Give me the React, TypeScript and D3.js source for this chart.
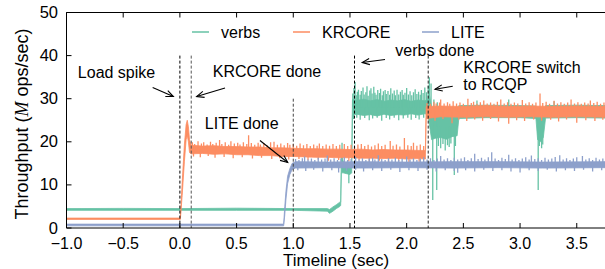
import React from 'react';
import * as d3 from 'd3';

// [time (sec), low, high]: solid core of each series, in M ops/sec
const verbsBand: [number, number, number][] = [
  [-1.0, 4.1, 4.5], [-0.5, 4.1, 4.55], [0.0, 4.1, 4.5], [0.5, 4.1, 4.6], [1.0, 4.1, 4.5],
  [1.30, 3.9, 4.5], [1.32, 3.4, 4.3], [1.35, 3.9, 4.9], [1.38, 4.5, 5.4], [1.41, 5.0, 6.0],
  [1.418, 5.2, 6.0], [1.424, 12.8, 17.0], [1.44, 12.8, 15.5], [1.47, 12.6, 14.6], [1.50, 12.4, 14.4],
  [1.515, 12.8, 15.0], [1.522, 26.2, 29.8], [1.56, 26.4, 29.6], [1.62, 26.1, 29.9], [1.68, 26.3, 29.5],
  [1.74, 26.0, 29.8], [1.80, 26.4, 29.4], [1.86, 26.1, 29.7], [1.92, 26.3, 29.5], [1.98, 26.2, 29.8],
  [2.04, 26.5, 29.4], [2.10, 26.2, 29.7], [2.16, 26.5, 29.5], [2.19, 26.3, 30.0], [2.20, 24.0, 31.0],
  [2.22, 20.5, 28.0], [2.25, 20.8, 26.5], [2.30, 21.0, 26.0], [2.35, 20.6, 26.2], [2.40, 21.2, 26.0],
  [2.445, 21.4, 26.6], [2.46, 25.4, 28.4], [2.7, 25.6, 28.5], [3.0, 25.6, 28.4], [3.14, 25.4, 28.3],
  [3.155, 20.5, 27.0], [3.18, 20.0, 26.8], [3.205, 21.0, 27.0], [3.225, 25.5, 28.4], [3.5, 25.6, 28.5],
  [3.75, 25.5, 28.4],
];
const krcoreBand: [number, number, number][] = [
  [-1.0, 2.0, 2.3], [0.0, 2.0, 2.3], [0.004, 2.0, 2.4], [0.02, 7.5, 10.5], [0.04, 15.5, 19.5],
  [0.055, 20.5, 24.0], [0.065, 21.5, 25.0], [0.075, 20.0, 23.5], [0.085, 17.5, 20.5], [0.10, 17.2, 19.2],
  [0.2, 17.3, 19.0], [0.3, 17.1, 19.1], [0.4, 17.2, 18.9], [0.5, 17.0, 18.9], [0.6, 17.0, 18.8],
  [0.7, 16.8, 18.8], [0.8, 16.8, 18.6], [0.9, 16.6, 18.6], [1.0, 16.6, 18.5], [1.1, 16.5, 18.4],
  [1.2, 16.4, 18.4], [1.3, 16.4, 18.3], [1.4, 16.3, 18.3], [1.5, 16.3, 18.2], [1.6, 16.2, 18.3],
  [1.7, 16.2, 18.1], [1.8, 16.1, 18.2], [1.9, 16.2, 18.1], [2.0, 16.0, 18.1], [2.1, 16.1, 18.0],
  [2.165, 16.0, 18.0], [2.172, 25.4, 28.2], [2.3, 25.8, 28.3], [2.5, 25.7, 28.2], [2.7, 25.8, 28.4],
  [2.9, 25.7, 28.2], [3.1, 25.8, 28.3], [3.3, 25.7, 28.2], [3.5, 25.8, 28.3], [3.75, 25.7, 28.2],
];
const liteBand: [number, number, number][] = [
  [-1.0, 0.5, 0.9], [0.915, 0.5, 0.9], [0.925, 3.0, 5.0], [0.935, 6.5, 8.5], [0.95, 10.3, 12.0],
  [0.97, 12.4, 13.8], [0.99, 13.6, 15.0], [1.02, 13.9, 15.4], [1.3, 14.0, 15.3], [1.6, 13.9, 15.4],
  [2.0, 14.0, 15.3], [2.4, 13.9, 15.4], [2.8, 14.0, 15.4], [3.2, 13.9, 15.3], [3.75, 14.0, 15.4],
];

// [time, value]: single-sample excursions outside the core
const verbsSpikes: [number, number][] = [
  [1.43, 19.8], [1.49, 10.4],
  [1.525, 31.2], [1.535, 32.5], [1.545, 33.9], [1.555, 30.8], [1.565, 31.6], [1.575, 32.1], [1.59, 30.9],
  [1.60, 31.8], [1.615, 32.6], [1.625, 31.0], [1.64, 31.5], [1.65, 32.9], [1.66, 30.7], [1.675, 31.9],
  [1.685, 32.4], [1.695, 31.2], [1.71, 32.8], [1.72, 31.4], [1.73, 30.9], [1.745, 32.0], [1.76, 31.3],
  [1.77, 32.3], [1.785, 30.8], [1.795, 31.7], [1.81, 32.0], [1.82, 31.1], [1.835, 31.8], [1.85, 30.9],
  [1.86, 32.4], [1.875, 31.2], [1.89, 31.9], [1.90, 30.8], [1.915, 32.1], [1.93, 31.0], [1.945, 31.6],
  [1.96, 32.0], [1.97, 30.9], [1.985, 31.4], [2.00, 32.5], [2.015, 31.0], [2.03, 31.7], [2.045, 30.8],
  [2.06, 31.5], [2.075, 32.2], [2.09, 31.1], [2.105, 31.6], [2.12, 30.9], [2.13, 32.0], [2.145, 31.3],
  [2.16, 32.6], [2.175, 31.5], [2.19, 33.0], [2.20, 35.0], [2.215, 33.5],
  [1.53, 25.3], [1.56, 25.6], [1.59, 25.1], [1.63, 25.5], [1.67, 25.0], [1.70, 25.4], [1.74, 25.6],
  [1.78, 24.9], [1.82, 25.5], [1.85, 25.2], [1.89, 25.6], [1.93, 25.0], [1.97, 25.4], [2.01, 25.6],
  [2.04, 25.1], [2.08, 25.5], [2.11, 25.2], [2.15, 25.6], [2.18, 25.3],
  [2.23, 6.5], [2.265, 8.8], [2.28, 19.0], [2.30, 18.5], [2.32, 19.5], [2.34, 18.0], [2.36, 19.2],
  [2.375, 18.8], [2.39, 19.6], [2.42, 12.3], [2.43, 19.0], [2.24, 29.8], [2.27, 29.2],
  [2.62, 29.6], [2.9, 29.8], [3.3, 29.4], [3.16, 8.8], [3.17, 19.0], [3.19, 18.5], [3.20, 19.4],
];
const krcoreSpikes: [number, number][] = [
  [0.11, 19.9], [0.13, 19.5], [0.16, 20.1], [0.19, 19.6], [0.21, 19.9], [0.24, 19.4], [0.27, 20.0],
  [0.29, 19.5], [0.32, 19.8], [0.35, 20.4], [0.37, 19.5], [0.40, 19.9], [0.43, 19.3], [0.45, 20.1],
  [0.48, 19.6], [0.51, 19.8], [0.53, 19.4], [0.56, 19.9], [0.59, 19.5], [0.606, 21.5], [0.63, 19.7],
  [0.66, 19.3], [0.69, 19.8], [0.71, 19.4], [0.74, 19.7], [0.77, 19.2], [0.80, 19.9], [0.83, 20.0],
  [0.86, 19.3], [0.89, 19.6], [0.92, 19.2], [0.95, 19.7], [0.97, 19.3], [1.00, 19.5], [1.03, 19.1],
  [1.06, 19.6], [1.09, 19.2], [1.12, 19.5], [1.15, 19.0], [1.18, 19.4], [1.21, 19.1], [1.23, 19.6],
  [1.26, 19.0], [1.29, 19.4], [1.32, 19.1], [1.35, 19.5], [1.38, 19.0], [1.41, 19.3], [1.45, 19.5],
  [1.48, 19.0], [1.51, 19.3], [1.54, 18.9], [1.57, 19.4], [1.60, 19.5], [1.63, 19.0], [1.66, 19.3],
  [1.69, 18.9], [1.72, 19.2], [1.75, 19.6], [1.78, 19.0], [1.81, 19.3], [1.855, 20.2], [1.88, 19.1],
  [1.91, 19.4], [1.94, 18.9], [1.98, 20.9], [2.01, 19.2], [2.04, 19.0], [2.06, 19.8], [2.09, 19.1],
  [2.12, 19.4], [2.15, 19.0],
  [0.12, 16.6], [0.18, 16.4], [0.25, 16.7], [0.31, 16.3], [0.39, 16.5], [0.47, 16.2], [0.55, 16.4],
  [0.64, 16.1], [0.72, 16.3], [0.81, 16.0], [0.88, 16.2], [0.96, 15.9], [1.05, 16.0], [1.13, 15.7],
  [1.22, 15.9], [1.31, 15.6], [1.40, 15.8], [1.49, 15.5], [1.58, 15.7], [1.67, 15.4], [1.76, 15.6],
  [1.84, 15.3], [1.93, 15.5], [2.02, 15.2], [2.11, 15.4],
  [2.18, 29.0], [2.21, 28.8], [2.24, 29.3], [2.26, 28.9], [2.29, 29.1], [2.30, 29.8], [2.33, 28.9],
  [2.36, 29.2], [2.38, 28.8], [2.41, 29.4], [2.44, 28.9], [2.47, 29.1], [2.50, 28.8], [2.54, 30.0],
  [2.57, 29.0], [2.59, 29.3], [2.62, 28.8], [2.65, 29.2], [2.68, 29.6], [2.71, 28.9], [2.74, 29.1],
  [2.77, 28.8], [2.80, 29.3], [2.83, 29.8], [2.86, 28.9], [2.89, 29.2], [2.92, 28.8], [2.95, 29.1],
  [2.98, 28.9], [3.02, 29.7], [3.05, 28.9], [3.08, 29.2], [3.11, 28.8], [3.14, 29.1], [3.176, 31.2],
  [3.20, 29.0], [3.23, 29.3], [3.26, 28.8], [3.30, 29.5], [3.33, 28.9], [3.36, 29.2], [3.39, 28.8],
  [3.42, 29.1], [3.45, 29.8], [3.48, 28.9], [3.51, 29.2], [3.54, 28.8], [3.57, 29.1], [3.60, 28.9],
  [3.62, 29.6], [3.65, 29.0], [3.68, 29.3], [3.71, 28.8], [3.74, 29.1],
  [2.19, 25.2], [2.25, 24.9], [2.32, 25.3], [2.40, 24.3], [2.46, 25.1], [2.53, 24.8], [2.60, 25.2],
  [2.67, 24.9], [2.74, 25.3], [2.81, 24.7], [2.90, 24.2], [2.97, 25.0], [3.04, 24.8], [3.12, 25.2],
  [3.19, 24.9], [3.27, 25.1], [3.34, 24.7], [3.41, 25.2], [3.50, 24.4], [3.58, 25.0], [3.66, 24.8],
  [3.73, 25.1],
];
const liteSpikes: [number, number][] = [
  [1.02, 16.0], [1.05, 15.8], [1.08, 16.2], [1.10, 16.6], [1.13, 15.9], [1.16, 16.1], [1.19, 15.8],
  [1.22, 16.3], [1.25, 15.9], [1.28, 16.1], [1.30, 16.8], [1.33, 15.9], [1.36, 16.2], [1.39, 15.8],
  [1.42, 16.1], [1.45, 16.4], [1.48, 15.8], [1.51, 16.0], [1.55, 16.5], [1.58, 15.9], [1.61, 16.2],
  [1.64, 15.8], [1.67, 16.1], [1.70, 16.3], [1.72, 15.9], [1.75, 16.9], [1.78, 16.0], [1.81, 15.8],
  [1.84, 16.2], [1.87, 15.9], [1.90, 16.3], [1.93, 15.8], [1.96, 16.1], [2.00, 16.6], [2.03, 15.9],
  [2.06, 16.2], [2.09, 15.8], [2.12, 16.1], [2.15, 16.4], [2.18, 15.9], [2.21, 16.2], [2.24, 15.8],
  [2.27, 16.1], [2.30, 16.7], [2.33, 15.9], [2.36, 16.2], [2.39, 15.8], [2.42, 16.3], [2.45, 15.9],
  [2.48, 16.1], [2.51, 16.4], [2.54, 15.8], [2.57, 16.2], [2.60, 17.2], [2.63, 16.0], [2.66, 16.3],
  [2.69, 15.9], [2.72, 16.4], [2.75, 17.6], [2.78, 16.1], [2.81, 15.8], [2.84, 16.3], [2.87, 16.0],
  [2.90, 17.0], [2.93, 15.9], [2.96, 16.2], [2.99, 15.8], [3.02, 16.1], [3.05, 16.4], [3.08, 15.9],
  [3.10, 16.8], [3.13, 16.0], [3.16, 16.2], [3.19, 15.8], [3.22, 16.3], [3.25, 15.9], [3.28, 16.1],
  [3.31, 16.5], [3.35, 16.9], [3.38, 15.9], [3.41, 16.2], [3.44, 15.8], [3.47, 16.1], [3.50, 16.4],
  [3.55, 16.7], [3.58, 15.9], [3.61, 16.2], [3.64, 15.8], [3.67, 16.3], [3.70, 15.9], [3.73, 16.1],
  [1.04, 13.4], [1.11, 13.2], [1.18, 13.5], [1.26, 13.1], [1.34, 13.4], [1.40, 12.9], [1.47, 13.3],
  [1.55, 13.5], [1.62, 13.1], [1.70, 13.4], [1.78, 13.2], [1.86, 13.5], [1.94, 13.0], [2.02, 13.4],
  [2.10, 13.2], [2.18, 13.5], [2.26, 13.1], [2.34, 13.4], [2.42, 13.2], [2.45, 12.8], [2.52, 13.4],
  [2.60, 13.1], [2.68, 13.5], [2.76, 13.2], [2.84, 13.4], [2.92, 13.1], [3.00, 12.9], [3.08, 13.4],
  [3.16, 13.2], [3.24, 13.5], [3.32, 13.1], [3.40, 13.4], [3.48, 13.2], [3.56, 13.5], [3.64, 13.1],
  [3.72, 13.4],
];

const seriesNames = ['verbs', 'KRCORE', 'LITE'];
const seriesColors = ['#66c2a5', '#fc8d62', '#8da0cb'];

const xTicks = [-1, -0.5, 0, 0.5, 1, 1.5, 2, 2.5, 3, 3.5];
const xTickLabels = ['\u22121.0', '\u22120.5', '0.0', '0.5', '1.0', '1.5', '2.0', '2.5', '3.0', '3.5'];
const yTicks = [0, 10, 20, 30, 40, 50];

// event markers: time and top of the dashed line
const eventTimes = [0, 0.1, 1.0, 1.54, 2.19];
const eventTops = [40, 40, 30, 40, 40];
const eventColors = ['#000', '#555', '#444', '#000', '#222'];

// annotation text (left/baseline in data coords) and arrows
const notes: { lines: string[]; t: number; v: number }[] = [
  { lines: ['Load spike'], t: -0.9, v: 34.9 },
  { lines: ['KRCORE done'], t: 0.29, v: 35.1 },
  { lines: ['LITE done'], t: 0.22, v: 22.9 },
  { lines: ['verbs done'], t: 1.9, v: 40.0 },
  { lines: ['KRCORE switch', 'to RCQP'], t: 2.5, v: 35.9 },
];
const arrows: [number, number, number, number][] = [
  [-0.24, 32.6, -0.058, 30.5],
  [0.398, 32.5, 0.148, 30.5],
  [0.706, 20.3, 0.951, 15.2],
  [1.809, 39.1, 1.608, 38.4],
  [2.406, 32.9, 2.25, 32.2],
];

const W = 605;
const H = 269;
const FONT = '"Liberation Sans", Arial, Helvetica, sans-serif';

export default function App() {
  const x = d3.scaleLinear().domain([-1, 3.75]).range([66.5, 605.1]);
  const y = d3.scaleLinear().domain([0, 50]).range([228, 12.5]);

  const area = d3
    .area<[number, number, number]>()
    .x((d) => x(d[0]))
    .y0((d) => y(d[1]))
    .y1((d) => y(d[2]));

  const bisect = d3.bisector((d: [number, number, number]) => d[0]).left;
  const bandMid = (band: [number, number, number][], t: number) => {
    const i = Math.min(Math.max(bisect(band, t), 1), band.length - 1);
    const a = band[i - 1];
    const b = band[i];
    const k = (t - a[0]) / (b[0] - a[0] || 1);
    return ((a[1] + a[2]) / 2) * (1 - k) + ((b[1] + b[2]) / 2) * k;
  };

  const bands = [verbsBand, krcoreBand, liteBand];
  const spikes = [verbsSpikes, krcoreSpikes, liteSpikes];

  const x0 = x.range()[0];
  const x1 = x.range()[1];
  const yb = y(0);
  const yt = y(50);

  const arrowHead = (xa: number, ya: number, xb: number, yb2: number) => {
    const ang = Math.atan2(yb2 - ya, xb - xa);
    const len = 8;
    const spread = 0.4;
    const p1 = [xb - len * Math.cos(ang - spread), yb2 - len * Math.sin(ang - spread)];
    const p2 = [xb - len * Math.cos(ang + spread), yb2 - len * Math.sin(ang + spread)];
    return `M${p1[0]},${p1[1]}L${xb},${yb2}L${p2[0]},${p2[1]}`;
  };

  const legendLineX = [192, 293, 422];

  return (
    <svg width={W} height={H} style={{ position: 'absolute', left: 0, top: 0, background: '#fff' }} fontFamily={FONT}>
      <defs>
        <clipPath id="plot">
          <rect x={x0} y={yt} width={x1 - x0} height={yb - yt} />
        </clipPath>
      </defs>

      {/* series */}
      <g clipPath="url(#plot)">
        {bands.map((band, si) => (
          <g key={si}>
            <path d={area(band) || ''} fill={seriesColors[si]} stroke={seriesColors[si]} strokeWidth={0.8} />
            {spikes[si].map(([t, v], k) => (
              <line
                key={k}
                x1={x(t)}
                x2={x(t)}
                y1={y(bandMid(band, t))}
                y2={y(v)}
                stroke={seriesColors[si]}
                strokeWidth={1.3}
              />
            ))}
          </g>
        ))}
      </g>

      {/* event markers */}
      {eventTimes.map((t, i) => (
        <line
          key={i}
          x1={x(t)}
          x2={x(t)}
          y1={y(eventTops[i])}
          y2={yb}
          stroke={eventColors[i]}
          strokeWidth={1}
          strokeDasharray="3,2"
        />
      ))}

      {/* frame */}
      <line x1={x0} x2={x0} y1={yt} y2={yb} stroke="#000" strokeWidth={1} />
      <line x1={x0} x2={W} y1={yb} y2={yb} stroke="#000" strokeWidth={1} />
      <line x1={x0} x2={W} y1={yt} y2={yt} stroke="#000" strokeWidth={1} />

      {xTicks.map((t, i) => (
        <g key={i}>
          <line x1={x(t)} x2={x(t)} y1={yb} y2={yb - 5} stroke="#000" />
          <line x1={x(t)} x2={x(t)} y1={yt} y2={yt + 5} stroke="#000" />
          <text x={x(t)} y={248.8} textAnchor="middle" fontSize={16} fill="#000">
            {xTickLabels[i]}
          </text>
        </g>
      ))}
      {yTicks.map((v) => (
        <g key={v}>
          <line x1={x0} x2={x0 + 5} y1={y(v)} y2={y(v)} stroke="#000" />
          <text x={58} y={y(v) + 5.5} textAnchor="end" fontSize={16.5} fill="#000">
            {v}
          </text>
        </g>
      ))}

      {/* axis titles */}
      <text x={336} y={265.8} textAnchor="middle" fontSize={17} fill="#000">
        Timeline (sec)
      </text>
      <text transform="translate(28,124) rotate(-90)" textAnchor="middle" fontSize={18} fill="#000">
        Throughput (
        <tspan fontFamily='"Liberation Serif", "DejaVu Serif", serif' fontStyle="italic">
          M
        </tspan>{' '}
        ops/sec)
      </text>

      {/* legend */}
      {seriesNames.map((name, i) => (
        <g key={name}>
          <line x1={legendLineX[i]} x2={legendLineX[i] + 17} y1={32} y2={32} stroke={seriesColors[i]} strokeWidth={1.5} />
          <text x={legendLineX[i] + 29} y={37.5} fontSize={16} fill="#000">
            {name}
          </text>
        </g>
      ))}

      {/* annotations */}
      {notes.map((n, i) => (
        <text key={i} x={x(n.t)} y={y(n.v)} fontSize={16} fill="#000">
          {n.lines.map((l, k) => (
            <tspan key={k} x={x(n.t)} dy={k === 0 ? 0 : 16.7}>
              {l}
            </tspan>
          ))}
        </text>
      ))}
      {arrows.map(([ta, va, tb, vb], i) => {
        const ax = x(ta);
        const ay = y(va);
        const bx = x(tb);
        const by = y(vb);
        return (
          <g key={i} stroke="#000" strokeWidth={1.1} fill="none">
            <line x1={ax} y1={ay} x2={bx} y2={by} />
            <path d={arrowHead(ax, ay, bx, by)} />
          </g>
        );
      })}
    </svg>
  );
}
